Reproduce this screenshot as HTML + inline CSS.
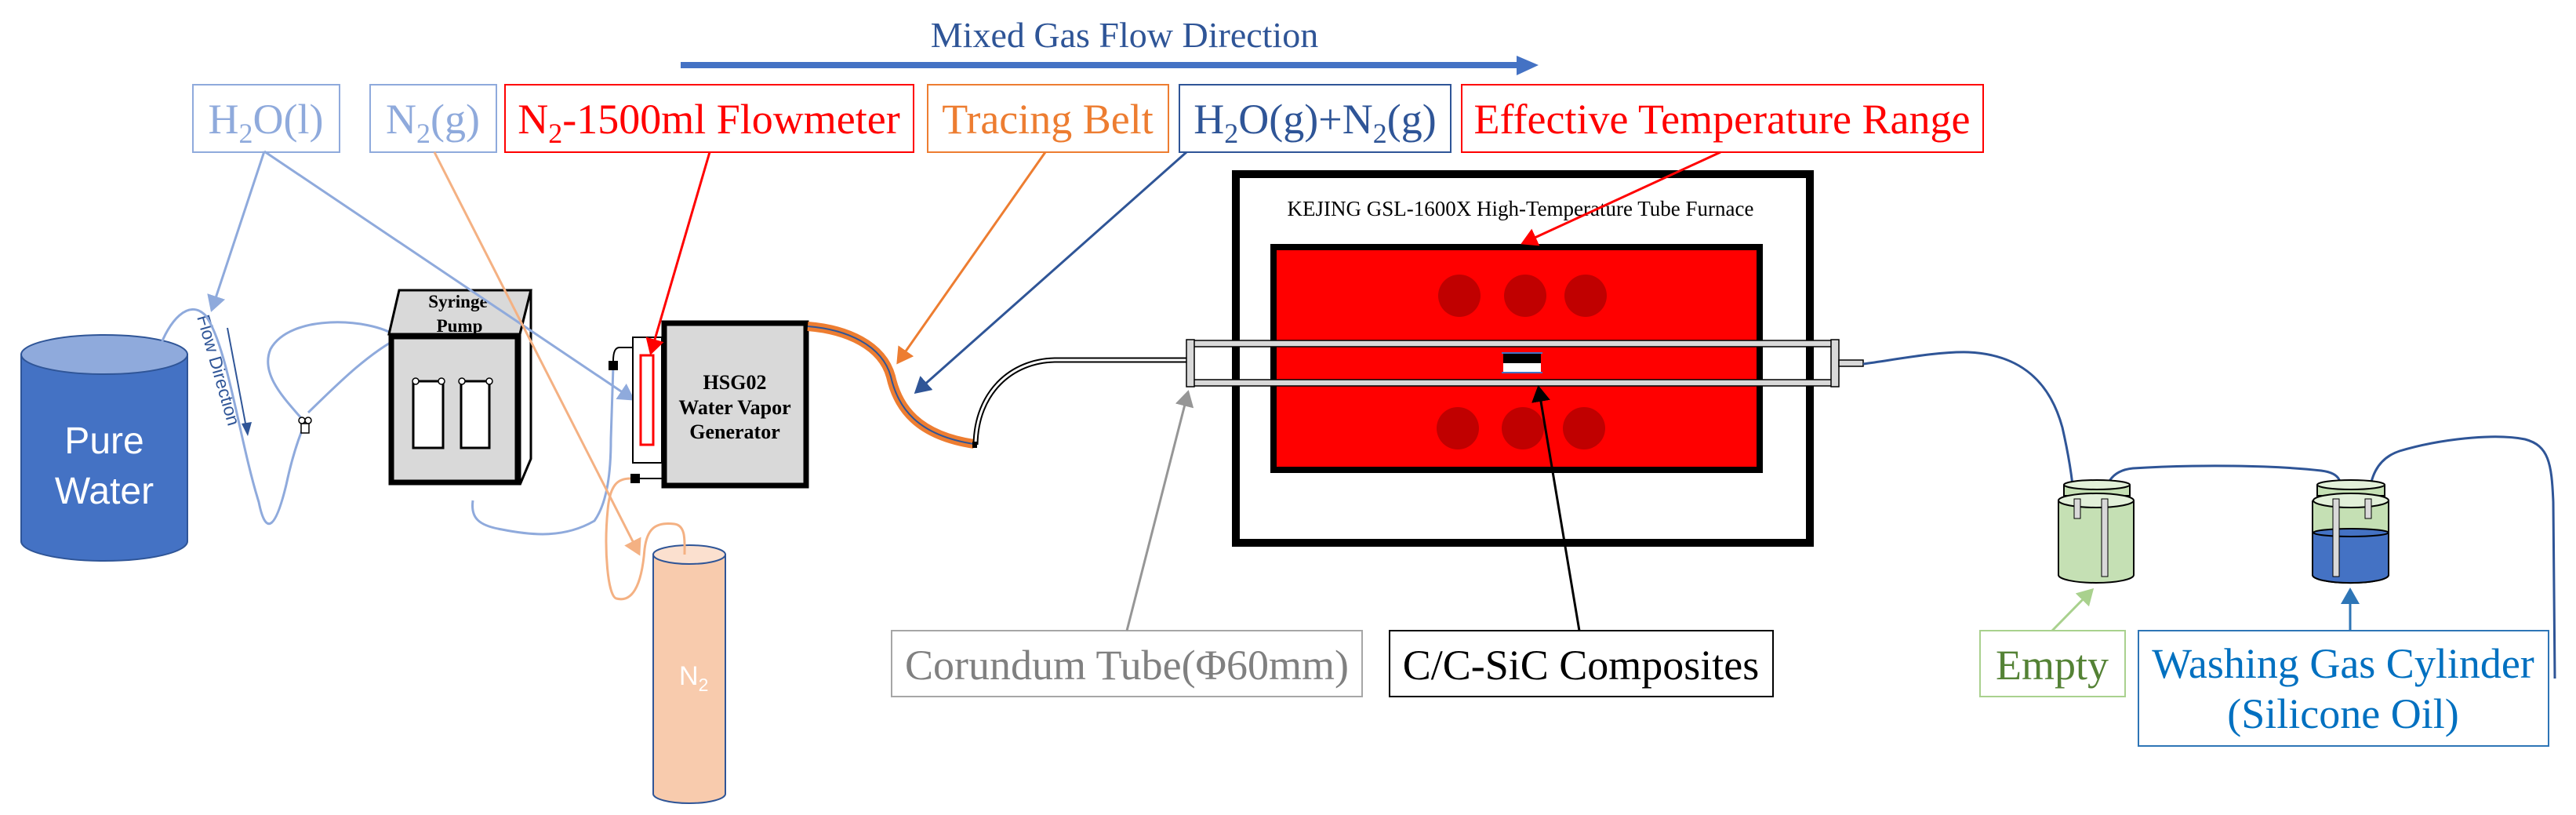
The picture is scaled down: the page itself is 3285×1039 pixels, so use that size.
<!DOCTYPE html>
<html><head><meta charset="utf-8"><style>html,body{margin:0;padding:0;background:#fff}svg{display:block}svg text{font-family:"Liberation Serif",serif}svg text.s{font-family:"Liberation Sans",sans-serif}</style></head><body>
<svg width="3285" height="1039" viewBox="0 0 3285 1039" xmlns="http://www.w3.org/2000/svg">
<defs>
<marker id="aB" markerWidth="8" markerHeight="8" refX="6" refY="4" orient="auto" markerUnits="strokeWidth"><path d="M0,0 L7,4 L0,8 z" fill="#8faadc"/></marker>
<marker id="aO" markerWidth="8" markerHeight="8" refX="6" refY="4" orient="auto" markerUnits="strokeWidth"><path d="M0,0 L7,4 L0,8 z" fill="#f4b183"/></marker>
<marker id="aR" markerWidth="8" markerHeight="8" refX="6" refY="4" orient="auto" markerUnits="strokeWidth"><path d="M0,0 L7,4 L0,8 z" fill="#ff0000"/></marker>
<marker id="aOr" markerWidth="8" markerHeight="8" refX="6" refY="4" orient="auto" markerUnits="strokeWidth"><path d="M0,0 L7,4 L0,8 z" fill="#ed7d31"/></marker>
<marker id="aDB" markerWidth="8" markerHeight="8" refX="6" refY="4" orient="auto" markerUnits="strokeWidth"><path d="M0,0 L7,4 L0,8 z" fill="#2f5597"/></marker>
<marker id="aG" markerWidth="8" markerHeight="8" refX="6" refY="4" orient="auto" markerUnits="strokeWidth"><path d="M0,0 L7,4 L0,8 z" fill="#969696"/></marker>
<marker id="aK" markerWidth="8" markerHeight="8" refX="6" refY="4" orient="auto" markerUnits="strokeWidth"><path d="M0,0 L7,4 L0,8 z" fill="#000"/></marker>
<marker id="aGr" markerWidth="8" markerHeight="8" refX="6" refY="4" orient="auto" markerUnits="strokeWidth"><path d="M0,0 L7,4 L0,8 z" fill="#a9d18e"/></marker>
<marker id="aBl" markerWidth="8" markerHeight="8" refX="6" refY="4" orient="auto" markerUnits="strokeWidth"><path d="M0,0 L7,4 L0,8 z" fill="#2e75b6"/></marker>
</defs>

<!-- top arrow -->
<text x="1434" y="60" font-size="46" fill="#2f5597" text-anchor="middle">Mixed Gas Flow Direction</text>
<rect x="868" y="79" width="1068" height="8" fill="#4472c4"/>
<path d="M1934,71 L1962,83 L1934,96 z" fill="#4472c4"/>

<!-- label boxes -->
<g font-size="54" text-anchor="middle">
<rect x="246" y="108" width="187" height="86" fill="#fff" stroke="#8faadc" stroke-width="2"/>
<text x="339" y="170" fill="#8faadc">H<tspan font-size="36" dy="12">2</tspan><tspan dy="-12">O(l)</tspan></text>
<rect x="472" y="108" width="161" height="86" fill="#fff" stroke="#8faadc" stroke-width="2"/>
<text x="552" y="170" fill="#8faadc">N<tspan font-size="36" dy="12">2</tspan><tspan dy="-12">(g)</tspan></text>
<rect x="644" y="108" width="521" height="86" fill="#fff" stroke="#ff0000" stroke-width="2"/>
<text x="904" y="170" fill="#ff0000">N<tspan font-size="36" dy="12">2</tspan><tspan dy="-12">-1500ml Flowmeter</tspan></text>
<rect x="1183" y="108" width="307" height="86" fill="#fff" stroke="#ed7d31" stroke-width="2"/>
<text x="1336" y="170" fill="#ed7d31">Tracing Belt</text>
<rect x="1504" y="108" width="346" height="86" fill="#fff" stroke="#2f5597" stroke-width="2"/>
<text x="1677" y="170" fill="#2f5597">H<tspan font-size="36" dy="12">2</tspan><tspan dy="-12">O(g)+N</tspan><tspan font-size="36" dy="12">2</tspan><tspan dy="-12">(g)</tspan></text>
<rect x="1864" y="108" width="665" height="86" fill="#fff" stroke="#ff0000" stroke-width="2"/>
<text x="2196" y="170" fill="#ff0000">Effective Temperature Range</text>
<rect x="1137" y="804" width="600" height="84" fill="#fff" stroke="#a6a6a6" stroke-width="2"/>
<text x="1437" y="866" fill="#808080">Corundum Tube(Φ60mm)</text>
<rect x="1772" y="804" width="489" height="84" fill="#fff" stroke="#000" stroke-width="2"/>
<text x="2016" y="866" fill="#000">C/C-SiC Composites</text>
<rect x="2525" y="804" width="185" height="84" fill="#fff" stroke="#a9d18e" stroke-width="2"/>
<text x="2617" y="866" fill="#548235">Empty</text>
<rect x="2727" y="804" width="523" height="147" fill="#fff" stroke="#2e75b6" stroke-width="2"/>
<text x="2988" y="864" fill="#0070c0">Washing Gas Cylinder</text>
<text x="2988" y="928" fill="#0070c0">(Silicone Oil)</text>
</g>

<!-- Pure water cylinder -->
<path d="M27,452 L27,690 A106,25 0 0 0 239,690 L239,452 z" fill="#4472c4" stroke="#2f5597" stroke-width="2"/>
<ellipse cx="133" cy="452" rx="106" ry="25" fill="#8faadc" stroke="#2f5597" stroke-width="2"/>
<text class="s" x="133" y="578" font-size="48" fill="#fff" text-anchor="middle">Pure</text>
<text class="s" x="133" y="642" font-size="48" fill="#fff" text-anchor="middle">Water</text>

<!-- Flow direction -->
<text class="s" transform="translate(251,404) rotate(74)" font-size="23" fill="#2f5597">Flow Direction</text>
<line x1="290" y1="418" x2="314" y2="545" stroke="#2f5597" stroke-width="2"/>
<path d="M308,540 L316,556 L321,538 z" fill="#2f5597"/>

<!-- light blue pipes -->
<g fill="none" stroke="#8faadc" stroke-width="3">
<path d="M203,445 C215,410 240,380 262,402 C290,440 305,560 330,640 C338,680 350,680 365,618 C372,585 380,560 389,539"/>
<path d="M389,539 C370,515 330,480 345,445 C370,400 470,405 505,428 C520,445 527,470 530,486"/>
<path d="M393,526 C430,490 470,450 510,430 C550,410 575,420 582,461 C585,475 588,485 589,487"/>
<path d="M601,595 C590,560 570,520 565,486"/>
<path d="M601,595 C612,560 618,520 624,486"/>
<path d="M601,595 C625,560 640,490 635,464"/>
<path d="M603,638 C600,660 610,670 640,675 C680,683 720,686 758,664 C775,640 779,600 779,560 L782,467"/>
</g>
<!-- valves -->
<g fill="#fff" stroke="#000" stroke-width="1.5">
<rect x="384" y="540" width="10" height="12"/><circle cx="385" cy="536" r="4"/><circle cx="393" cy="536" r="4"/>
<rect x="596" y="597" width="10" height="12"/><circle cx="597" cy="593" r="4"/><circle cx="605" cy="593" r="4"/>
</g>

<!-- syringe pump -->
<polygon points="509,370 677,370 663,426 496,426" fill="#d9d9d9" stroke="#000" stroke-width="3"/>
<polygon points="663,426 677,370 677,585 663,618" fill="#fff" stroke="#000" stroke-width="3"/>
<rect x="499" y="429" width="161" height="186" fill="#d9d9d9" stroke="#000" stroke-width="7"/>
<rect x="527" y="486" width="38" height="85" fill="#fff" stroke="#000" stroke-width="3"/>
<rect x="588" y="486" width="36" height="85" fill="#fff" stroke="#000" stroke-width="3"/>
<g font-size="23" font-weight="bold" text-anchor="middle"><text x="584" y="392">Syringe</text><text x="586" y="423">Pump</text></g>
<g fill="#fff" stroke="#000" stroke-width="1.5"><circle cx="530" cy="486" r="4"/><circle cx="563" cy="486" r="4"/><circle cx="589" cy="486" r="4"/><circle cx="624" cy="486" r="4"/></g>

<g fill="none" stroke="#8faadc" stroke-width="3">
<path d="M337,193 L270,395" marker-end="url(#aB)"/>
<path d="M337,193 L807,509" marker-end="url(#aB)"/>
</g>

<!-- HSG02 -->
<rect x="807" y="430" width="37" height="160" fill="#fff" stroke="#000" stroke-width="2"/>
<rect x="817" y="453" width="16" height="114" fill="#fff" stroke="#ff0000" stroke-width="3"/>
<rect x="847" y="412" width="181" height="207" fill="#d9d9d9" stroke="#000" stroke-width="7"/>
<g font-size="26" font-weight="bold" text-anchor="middle"><text x="937" y="496">HSG02</text><text x="937" y="528">Water Vapor</text><text x="937" y="559">Generator</text></g>
<path d="M807,443 L790,443 C784,443 782,450 782,460" fill="none" stroke="#000" stroke-width="2"/>
<rect x="776" y="460" width="12" height="12" fill="#000"/>
<line x1="816" y1="610" x2="847" y2="610" stroke="#000" stroke-width="2"/>
<rect x="804" y="604" width="12" height="12" fill="#000"/>

<!-- N2 cylinder -->
<path d="M833,707 L833,1012 A46,12 0 0 0 925,1012 L925,707 z" fill="#f8cbad" stroke="#2f5597" stroke-width="2"/>
<ellipse cx="879" cy="707" rx="46" ry="12" fill="#fbe0cf" stroke="#2f5597" stroke-width="2"/>
<text class="s" x="866" y="873" font-size="34" fill="#fff">N<tspan font-size="23" dy="8">2</tspan></text>
<path d="M804,610 C790,610 778,615 775,650 C770,700 775,760 786,763 C805,768 818,750 822,700 C825,675 835,665 860,668 C875,670 873,690 873,707" fill="none" stroke="#f4b183" stroke-width="3"/>

<line x1="554" y1="194" x2="815" y2="706" stroke="#f4b183" stroke-width="3" marker-end="url(#aO)"/>
<line x1="905" y1="194" x2="830" y2="450" stroke="#ff0000" stroke-width="3" marker-end="url(#aR)"/>

<!-- tracing belt tube -->
<path d="M1030,416 C1080,420 1125,440 1136,480 C1145,520 1170,555 1242,566" fill="none" stroke="#ed7d31" stroke-width="12"/>
<path d="M1030,416 C1080,420 1125,440 1136,480 C1145,520 1170,555 1242,566" fill="none" stroke="#2f5597" stroke-width="2"/>
<line x1="1333" y1="194" x2="1145" y2="462" stroke="#ed7d31" stroke-width="3" marker-end="url(#aOr)"/>
<line x1="1513" y1="194" x2="1168" y2="500" stroke="#2f5597" stroke-width="3" marker-end="url(#aDB)"/>

<path d="M1244,567 C1245,500 1290,460 1345,459 L1517,459" fill="none" stroke="#000" stroke-width="7"/>
<path d="M1244,567 C1245,500 1290,460 1345,459 L1517,459" fill="none" stroke="#fff" stroke-width="3"/>
<rect x="1240" y="563" width="6" height="8" fill="#000"/>

<!-- furnace -->
<rect x="1576" y="222" width="732" height="470" fill="#fff" stroke="#000" stroke-width="10"/>
<text x="1939" y="275" font-size="27" text-anchor="middle">KEJING GSL-1600X High-Temperature Tube Furnace</text>
<rect x="1624" y="315" width="620" height="284" fill="#ff0000" stroke="#000" stroke-width="8"/>
<g fill="#c00000"><circle cx="1861" cy="377" r="27"/><circle cx="1945" cy="377" r="27"/><circle cx="2022" cy="377" r="27"/><circle cx="1859" cy="546" r="27"/><circle cx="1942" cy="546" r="27"/><circle cx="2020" cy="546" r="27"/></g>
<g fill="#d9d9d9" stroke="#000" stroke-width="1.5">
<rect x="1519" y="434" width="820" height="8"/>
<rect x="1519" y="484" width="820" height="8"/>
<rect x="1513" y="433" width="10" height="60"/>
<rect x="2335" y="433" width="10" height="60"/>
<rect x="2345" y="459" width="31" height="8"/>
</g>
<rect x="1917" y="450" width="48" height="13" fill="#000"/>
<rect x="1917" y="463" width="48" height="12" fill="#fff"/>
<line x1="1915" y1="450" x2="1967" y2="450" stroke="#4472c4" stroke-width="2"/>
<line x1="1915" y1="475" x2="1967" y2="475" stroke="#4472c4" stroke-width="2"/>

<line x1="2194" y1="194" x2="1942" y2="310" stroke="#ff0000" stroke-width="3" marker-end="url(#aR)"/>
<line x1="1437" y1="804" x2="1515" y2="500" stroke="#969696" stroke-width="3" marker-end="url(#aG)"/>
<line x1="2014" y1="804" x2="1962" y2="494" stroke="#000" stroke-width="3" marker-end="url(#aK)"/>

<g fill="none" stroke="#2f5597" stroke-width="3">
<path d="M2376,464 C2420,458 2470,448 2510,449 C2580,452 2615,490 2630,545 C2638,580 2643,610 2645,640"/>
<path d="M2684,640 C2684,620 2690,600 2720,597 C2800,592 2900,593 2960,600 C2985,603 2990,615 2980,640"/>
<path d="M3020,640 C3022,610 3030,585 3060,575 C3110,560 3180,552 3220,560 C3250,568 3254,590 3256,640 L3258,865"/>
</g>

<g stroke="#000" stroke-width="2">
<path d="M2632,618 L2632,632 L2716,632 L2716,618" fill="#c5e0b4"/>
<ellipse cx="2674" cy="618" rx="42" ry="6" fill="#e2f0d9"/>
<path d="M2625,638 L2625,733 A48,10 0 0 0 2721,733 L2721,638" fill="#c5e0b4"/>
<ellipse cx="2673" cy="638" rx="48" ry="9" fill="#e2f0d9"/>
</g>
<g fill="#d9d9d9" stroke="#000" stroke-width="1"><rect x="2645" y="636" width="8" height="25"/><rect x="2680" y="636" width="8" height="99"/></g>
<g stroke="#000" stroke-width="2">
<path d="M2955,618 L2955,632 L3041,632 L3041,618" fill="#c5e0b4"/>
<ellipse cx="2998" cy="618" rx="43" ry="6" fill="#e2f0d9"/>
<path d="M2949,638 L2949,733 A48,10 0 0 0 3046,733 L3046,638" fill="#c5e0b4"/>
<path d="M2949,679 L2949,733 A48,10 0 0 0 3046,733 L3046,679 z" fill="#4472c4"/>
<ellipse cx="2998" cy="679" rx="48" ry="5" fill="#4472c4"/>
<ellipse cx="2998" cy="638" rx="48" ry="9" fill="#e2f0d9"/>
</g>
<g fill="#d9d9d9" stroke="#000" stroke-width="1"><rect x="2975" y="636" width="8" height="99"/><rect x="3016" y="636" width="8" height="25"/></g>

<line x1="2617" y1="804" x2="2668" y2="752" stroke="#a9d18e" stroke-width="3" marker-end="url(#aGr)"/>
<line x1="2997" y1="804" x2="2997" y2="752" stroke="#2e75b6" stroke-width="3" marker-end="url(#aBl)"/>
</svg>
</body></html>
